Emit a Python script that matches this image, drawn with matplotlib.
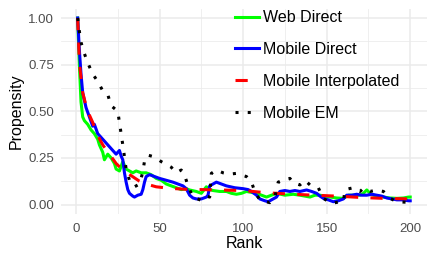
import matplotlib
matplotlib.use("Agg")
import matplotlib.pyplot as plt
from matplotlib.ticker import MultipleLocator

plt.rcParams['font.family'] = ['Liberation Sans', 'DejaVu Sans']

# values (rank -> propensity)
web_rank = [1, 2, 3, 4, 5, 7, 9, 11, 13, 14, 16, 17, 19, 21, 23, 24, 26, 28, 29, 30,
            32, 34, 36, 39, 42, 45, 48, 51, 54, 57, 60, 63, 66, 68, 72, 75, 78, 80, 82, 86,
            90, 93, 96, 99, 102, 105, 108, 111, 114, 117, 120, 125, 130, 134, 137, 140, 143, 146, 149, 152,
            156, 160, 163, 166, 170, 172, 174, 176, 178, 181, 184, 188, 192, 196, 199, 200]
web_direct = [1.0, 0.75, 0.55, 0.47, 0.45, 0.43, 0.40, 0.38, 0.35, 0.32,
              0.28, 0.24, 0.27, 0.25, 0.22, 0.19, 0.18, 0.23, 0.21, 0.19,
              0.18, 0.17, 0.18, 0.17, 0.17, 0.16, 0.14, 0.13, 0.11, 0.10,
              0.09, 0.08, 0.085, 0.078, 0.07, 0.06, 0.095, 0.08, 0.075, 0.07,
              0.07, 0.06, 0.055, 0.06, 0.07, 0.065, 0.06, 0.05, 0.04, 0.05,
              0.06, 0.05, 0.055, 0.05, 0.045, 0.04, 0.05, 0.05, 0.045, 0.04,
              0.035, 0.033, 0.05, 0.05, 0.05, 0.06, 0.078, 0.06, 0.05, 0.045,
              0.04, 0.035, 0.033, 0.035, 0.04, 0.04]

mob_rank = [1, 2, 3, 4, 5, 6, 8, 10, 11, 13, 15, 18, 20, 22, 24, 26, 27, 28, 29, 30,
            31, 32, 34, 35, 37, 39, 40, 41, 42, 44, 47, 50, 54, 58, 61, 64, 66, 68, 70, 72,
            75, 78, 79, 80, 82, 84, 87, 90, 95, 100, 103, 105, 108, 110, 113, 115, 118, 120, 122, 125,
            128, 131, 134, 138, 141, 144, 146, 148, 151, 154, 157, 160, 162, 165, 168, 171, 174, 177, 180, 183,
            186, 189, 192, 195, 199, 200]
mobile_direct = [1.0, 0.83, 0.70, 0.60, 0.56, 0.52, 0.47, 0.42, 0.43, 0.38,
                 0.36, 0.33, 0.31, 0.29, 0.27, 0.29, 0.26, 0.24, 0.17, 0.12,
                 0.08, 0.06, 0.045, 0.04, 0.05, 0.055, 0.08, 0.12, 0.15, 0.16,
                 0.15, 0.14, 0.13, 0.12, 0.11, 0.10, 0.085, 0.05, 0.035, 0.03,
                 0.03, 0.04, 0.05, 0.10, 0.11, 0.12, 0.11, 0.10, 0.09, 0.085,
                 0.08, 0.07, 0.05, 0.03, 0.02, 0.015, 0.03, 0.04, 0.07, 0.075,
                 0.07, 0.075, 0.07, 0.078, 0.07, 0.06, 0.045, 0.033, 0.025, 0.015,
                 0.02, 0.03, 0.05, 0.05, 0.055, 0.05, 0.05, 0.055, 0.05, 0.045,
                 0.035, 0.03, 0.025, 0.025, 0.02, 0.02]

interp_rank = [1, 2, 4, 6, 8, 10, 13, 16, 20, 24, 28, 33, 38, 42, 48, 56, 65, 75, 86, 100,
               114, 128, 142, 156, 170, 184, 200]
mobile_interp = [1.0, 0.76, 0.60, 0.53, 0.48, 0.44, 0.37, 0.32, 0.27, 0.22, 0.185, 0.155, 0.125,
                 0.11, 0.095, 0.087, 0.082, 0.08, 0.078, 0.075, 0.063, 0.056, 0.05, 0.045,
                 0.038, 0.033, 0.03]

em_rank = [1, 2, 3, 5, 7, 10, 13, 16, 19, 21, 25, 26, 27, 28, 29, 30, 32, 35, 38, 40,
           41, 43, 45, 47, 51, 55, 57, 60, 63, 65, 67, 70, 75, 78, 80, 81, 84, 88, 92, 96,
           99, 102, 105, 107, 110, 116, 119, 121, 125, 128, 130, 134, 137, 140, 145, 148, 153, 158, 160, 161,
           166, 170, 172, 176, 180, 184, 188, 192, 198, 200]
mobile_em = [1.0, 0.93, 0.87, 0.81, 0.76, 0.70, 0.66, 0.61, 0.59, 0.53,
             0.50, 0.44, 0.38, 0.32, 0.256, 0.19, 0.13, 0.095, 0.11, 0.175,
             0.233, 0.265, 0.26, 0.255, 0.23, 0.21, 0.20, 0.17, 0.185, 0.158,
             0.10, 0.04, 0.022, 0.045, 0.04, 0.167, 0.185, 0.17, 0.163, 0.167,
             0.158, 0.15, 0.12, 0.07, 0.024, 0.01, 0.04, 0.12, 0.135, 0.14,
             0.117, 0.105, 0.13, 0.105, 0.09, 0.033, 0.006, 0.015, 0.015, 0.08,
             0.09, 0.07, 0.087, 0.07, 0.078, 0.07, 0.033, 0.015, 0.012, 0.01]

fig = plt.figure(figsize=(4.36, 2.64), dpi=100)
ax = fig.add_axes([0.14, 0.19, 0.839, 0.777])

ax.plot(web_rank, web_direct, color='#00FF00', lw=2.2, label='Web Direct')
ax.plot(mob_rank, mobile_direct, color='#0000FF', lw=2.2, label='Mobile Direct')
ax.plot(interp_rank, mobile_interp, color='#FF0000', lw=2.2, linestyle=(0, (4, 4)),
        label='Mobile Interpolated')
ax.plot(em_rank, mobile_em, color='black', lw=2.2, linestyle=(0, (1, 3)),
        label='Mobile EM')

ax.set_xlim(-8.95, 209.95)
ax.set_ylim(-0.05, 1.05)
ax.xaxis.set_major_locator(MultipleLocator(50))
ax.xaxis.set_minor_locator(MultipleLocator(25))
ax.yaxis.set_major_locator(MultipleLocator(0.25))
ax.yaxis.set_minor_locator(MultipleLocator(0.125))
ax.yaxis.set_major_formatter(plt.FuncFormatter(lambda v, p: f"{v:.2f}"))

ax.grid(which='major', color='#EBEBEB', lw=1.1)
ax.grid(which='minor', color='#EBEBEB', lw=0.55)
ax.set_axisbelow(True)
for s in ax.spines.values():
    s.set_visible(False)
ax.tick_params(which='both', length=0, labelsize=9.5, labelcolor='#4D4D4D')
ax.tick_params(axis='x', pad=6.5)
ax.tick_params(axis='y', pad=5)

ax.set_xlabel('Rank', fontsize=11.5, labelpad=1)
ax.set_ylabel('Propensity', fontsize=11.5, labelpad=3)

leg = ax.legend(loc='upper left', bbox_to_anchor=(235 / 436, 0.961), bbox_transform=fig.transFigure,
                frameon=False, fontsize=11.5, handlelength=1.5, handletextpad=0.25,
                labelspacing=1.05, borderaxespad=0, borderpad=0)

fig.savefig('out.png', dpi=100)
